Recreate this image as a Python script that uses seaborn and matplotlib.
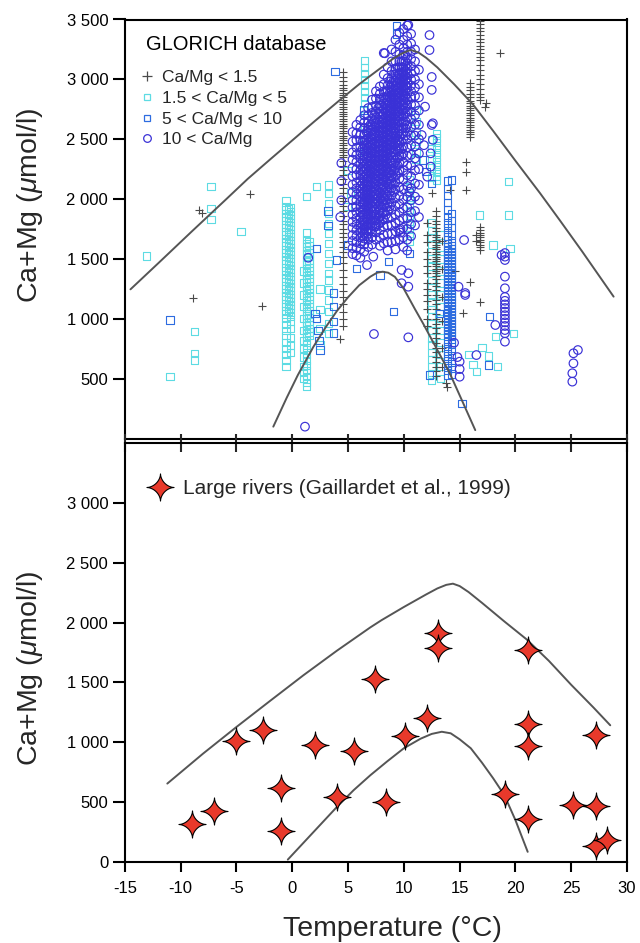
import numpy as np
import pandas as pd
import matplotlib
matplotlib.use("Agg")
import matplotlib.pyplot as plt
from matplotlib.path import Path
from matplotlib.lines import Line2D
from matplotlib.ticker import FuncFormatter
import seaborn as sns

# ---------------------------------------------------------------- GLORICH data
# Ca/Mg < 1.5  (isolated samples)
plus_iso_t = [-8.4, -8.1, -3.8, -8.9, -2.7, 4.3, 18.6, 15.6, 15.6, 15.6, 14.1,
              16.8, 15.3, 15.9, 17.3, 13.8, 13.9, 16.5, 16.5, 14.6, 12.5, 17.35]
plus_iso_y = [1910, 1880, 2040, 1170, 1107, 830, 3218, 2312, 2229, 2076, 2076,
              1143, 1046, 1310, 2772, 461, 430, 1700, 1650, 1400, 2050, 2800]
# Ca/Mg < 1.5  (stations sampled repeatedly)
plus_a_t = 4.55
plus_a_y = [3060, 3020, 2990, 2950, 2930, 2910, 2890, 2870, 2850, 2830, 2810,
            2790, 2770, 2750, 2730, 2710, 2690, 2670, 2650, 2630, 2610, 2590,
            2570, 2550, 2530, 2510, 2490, 2470, 2450, 2430, 2410, 2390, 2370,
            2350, 2320, 2280, 2240, 2200, 2170, 2130, 2090, 2050, 2010, 1980,
            1940, 1900, 1860, 1820, 1790, 1750, 1720, 1680, 1640, 1600, 1560,
            1520, 1470, 1410, 1350, 1290, 1230, 1180, 1120, 1060, 1000, 940]
plus_b_t = 12.9
plus_b_y = [1900, 1860, 1820, 1790, 1760, 1730, 1700, 1680, 1660, 1640, 1620,
            1600, 1580, 1560, 1540, 1520, 1500, 1480, 1460, 1440, 1420, 1400,
            1380, 1360, 1330, 1300, 1270, 1240, 1200, 1160, 1120, 1080, 1040,
            1000, 960, 920, 880, 840, 800, 760, 720, 680, 640, 600, 560, 520]
plus_c_t = 12.1
plus_c_y = [1800, 1700, 1640, 1560, 1500, 1440, 1380, 1300, 1250, 1200, 1150,
            1080, 1000, 940]
plus_d_t = 13.4
plus_d_y = [1650, 1420, 1180, 980, 760, 600]
plus_e_t = 15.9
plus_e_y = [2970, 2940, 2910, 2880, 2850, 2820, 2800, 2780, 2760, 2740, 2720,
            2700, 2680, 2660, 2640, 2620, 2600, 2580, 2560, 2540, 2520]
plus_f_t = 16.8
plus_f_y = [3490, 3460, 3430, 3400, 3370, 3340, 3310, 3280, 3250, 3220, 3190,
            3160, 3120, 3080, 3040, 3000, 2960, 2920, 2880, 2850, 2830,
            1770, 1740, 1720, 1700, 1680, 1660, 1640, 1620, 1600, 1575]

# 1.5 < Ca/Mg < 5
cyan_iso_t = [-13.05, -10.96, -8.78, -8.78, -8.78, -7.28, -7.28, -7.28, -4.6,
              16.8, 19.4, 19.4, 19.5, 18.0, 19.8, 18.2, 16.5, 15.8, 16.2, 17.0,
              17.6, 18.4, 2.2, 1.3, 5.0, 5.2, 4.9, 2.5, 2.5, 2.5, 2.5]
cyan_iso_y = [1524, 516, 892, 712, 656, 2104, 1923, 1831, 1728,
              1867, 2145, 1867, 1589, 1617, 879, 850, 558, 700, 620, 760,
              690, 600, 2104, 2020, 2240, 2050, 1940, 1250, 1080, 920, 780]
cyan_a_t = -0.55
cyan_a_y = [1990, 1940, 1910, 1880, 1850, 1820, 1790, 1760, 1730, 1700, 1670,
            1640, 1610, 1580, 1550, 1520, 1490, 1460, 1430, 1400, 1370, 1340,
            1310, 1280, 1250, 1220, 1190, 1160, 1130, 1100, 1070, 1040, 1000,
            950, 900, 860, 800, 750, 700, 650, 600]
cyan_b_t = -0.15
cyan_b_y = [1930, 1895, 1865, 1835, 1805, 1775, 1745, 1715, 1685, 1655, 1625,
            1595, 1565, 1535, 1505, 1475, 1445, 1415, 1385, 1355, 1325, 1295,
            1265, 1235, 1205, 1175, 1145, 1115, 1085, 1055, 1020, 980, 920,
            840, 780, 720]
cyan_b2_t = -0.35
cyan_b2_y = [1920, 1880, 1845, 1810, 1780, 1750, 1720, 1690, 1660, 1630, 1600,
             1570, 1540, 1510, 1480, 1450, 1420, 1390, 1360, 1330, 1300, 1270,
             1240, 1210, 1180, 1150, 1120, 1090, 1060]
cyan_c_t = 1.3
cyan_c_y = [1716, 1660, 1630, 1600, 1570, 1540, 1510, 1480, 1450, 1420, 1390,
            1360, 1330, 1300, 1270, 1240, 1210, 1180, 1150, 1120, 1090, 1060,
            1030, 1000, 970, 940, 910, 880, 850, 820, 780, 740, 700, 650, 610,
            570, 520, 470, 433]
cyan_c2_t = 1.5
cyan_c2_y = [1640, 1610, 1580, 1550, 1520, 1490, 1460, 1430, 1400, 1370, 1340,
             1310, 1280, 1250, 1220, 1190, 1160, 1130, 1100, 1070, 1040, 1010,
             980, 950, 920, 890, 860]
cyan_d_t = 1.0
cyan_d_y = [1400, 1300, 1200, 1100, 1000, 900, 820, 750, 680, 600, 550, 500]
cyan_e_t = 3.22
cyan_e_y = [2118, 2048, 1965, 1881, 1798, 1714, 1631, 1547, 1464, 1380, 1324,
            1241, 1157, 1059, 962, 879]
cyan_f_t = 6.5
cyan_f_y = [3160, 3100, 3050, 3000, 2950, 2900, 2850, 2800, 2700, 2600, 2500,
            2400]
cyan_g_t = 10.5
cyan_g_y = [2160, 2100, 2050, 2000, 1950, 1900, 1850, 1800, 1750, 1700, 1650]
cyan_h_t = 12.9
cyan_h_y = [2550, 2510, 2470, 2430, 2390, 2350, 2310, 2270, 2230, 2190, 2160]
cyan_i_t = 12.5
cyan_i_y = [2500, 2420, 2340, 2260, 2180, 1800, 1740, 1680, 1620, 1560, 1500,
            1440, 1380, 1320, 1260, 1200, 1140, 1080, 1020, 960, 900, 840,
            780, 720, 660, 600, 540, 490]
cyan_j_t = 13.3
cyan_j_y = [1700, 1600, 1500, 1400, 1300, 1200, 1100, 1000, 900, 800, 700,
            600, 500]
cyan_k_t = 11.1
cyan_k_y = [2740, 2650, 2560, 2480, 2400, 2330]

# 5 < Ca/Mg < 10
blue_iso_t = [-10.96, 3.83, 9.35, 9.35, 2.19, 2.03, 2.2, 2.3, 2.4, 2.5, 3.67,
              3.67, 3.67, 3.67, 3.98, 5.0, 5.77, 9.05, 7.86, 8.6, 12.3, 15.2,
              17.6, 17.7, 13.2, 6.4, 10.5, 11.7, 12.0, 12.5, 14.3, 3.2, 3.2]
blue_iso_y = [990, 3064, 3450, 3380, 1589, 1046, 1000, 900, 820, 740, 1215,
              1100, 980, 880, 1491, 1617, 1422, 1059, 1366, 1477, 530, 294,
              614, 1017, 1046, 2744, 1547, 2327, 2230, 2132, 2160, 1900, 1780]
blue_a_t = 13.9
blue_a_y = [2150, 2090, 2030, 1970, 1910, 1850, 1800, 1760, 1720, 1690, 1660,
            1630, 1600, 1575, 1550, 1525, 1500, 1475, 1450, 1425, 1400, 1375,
            1350, 1325, 1300, 1275, 1250, 1225, 1200, 1175, 1150, 1125, 1100,
            1075, 1050, 1025, 1000, 975, 950, 925, 900, 875, 850, 810, 770,
            730, 690, 650, 610, 570, 530]
blue_b_t = 14.3
blue_b_y = [1880, 1820, 1760, 1700, 1650, 1610, 1587, 1562, 1537, 1512, 1487,
            1462, 1437, 1412, 1387, 1362, 1337, 1312, 1287, 1262, 1237, 1212,
            1187, 1162, 1137, 1112, 1087, 1062, 1037, 1012, 987, 962, 937, 912,
            887, 862, 830, 790, 740, 690, 640, 590, 540]

# 10 < Ca/Mg
circ_iso_t = [1.14, 1.43, 7.32, 10.4, 18.2, 16.5, 15.0, 15.0, 15.0, 14.5, 14.8,
              15.5, 15.4, 14.9, 15.5, 18.76, 12.3, 12.3, 12.5, 12.5, 11.9, 12.6,
              12.6, 10.4, 8.3, 9.7, 9.7, 10.5, 9.8, 9.8, 10.4, 10.4, 7.26, 6.7,
              4.4, 4.4, 4.4, 4.3, 11.6, 12.5, 12.4, 12.4, 12.1, 11.8, 25.6,
              25.2, 25.2, 25.1, 25.1]
circ_iso_y = [99, 1510, 873, 845, 948, 697, 642, 580, 516, 800, 680,
              1199, 1658, 1268, 1215, 1533, 3370, 3245, 3020, 2912, 2772, 2633,
              2495, 3454, 3218, 1750, 1720, 2062, 1408, 1297, 1380, 1268, 1519,
              1449, 2300, 2150, 1990, 1850, 2535, 2619, 2382, 2271, 2187, 2450,
              739, 712, 628, 545, 475]
circ_r_t = 19.06
circ_r_y = [1549, 1519, 1491, 1352, 1255, 1182, 1150, 1120, 1090, 1060, 1030,
            1000, 970, 940, 906, 879, 809]
# dense cloud of samples between 5 and 11.5 °C
circ_cloud_t = [5.4, 5.75, 6.1, 6.45, 6.8, 7.15, 7.5, 7.85, 8.2, 8.55, 8.9,
                9.25, 9.6, 9.95, 10.3, 10.65, 11.0, 11.35]
circ_cloud_y = [
    [2560, 2480, 2390, 2330, 2260, 2190, 2120, 2060, 1990, 1930, 1870, 1810,
     1760, 1700, 1650, 1590, 1540],
    [2620, 2550, 2490, 2430, 2370, 2310, 2250, 2200, 2140, 2090, 2040, 1990,
     1940, 1890, 1840, 1790, 1740, 1690, 1640, 1590, 1530],
    [2660, 2600, 2540, 2490, 2440, 2390, 2340, 2290, 2240, 2200, 2150, 2110,
     2060, 2020, 1980, 1930, 1890, 1850, 1800, 1760, 1720, 1680, 1630, 1580,
     1510],
    [2700, 2640, 2590, 2540, 2490, 2450, 2400, 2360, 2310, 2270, 2230, 2190,
     2150, 2110, 2070, 2030, 1990, 1950, 1910, 1870, 1830, 1790, 1750, 1710,
     1670, 1620, 1560],
    [2760, 2700, 2650, 2600, 2550, 2510, 2470, 2430, 2390, 2350, 2310, 2270,
     2230, 2190, 2150, 2110, 2070, 2030, 1990, 1950, 1910, 1870, 1830, 1790,
     1750, 1710, 1660, 1600],
    [2830, 2770, 2720, 2670, 2620, 2580, 2540, 2500, 2460, 2420, 2380, 2340,
     2300, 2260, 2220, 2180, 2140, 2100, 2060, 2020, 1980, 1940, 1900, 1860,
     1820, 1780, 1730, 1680, 1620],
    [2900, 2840, 2780, 2730, 2680, 2640, 2600, 2560, 2520, 2480, 2440, 2400,
     2360, 2320, 2280, 2240, 2200, 2160, 2120, 2080, 2040, 2000, 1960, 1920,
     1870, 1820, 1770, 1720, 1660],
    [2940, 2880, 2830, 2780, 2730, 2690, 2650, 2610, 2570, 2530, 2490, 2450,
     2410, 2370, 2330, 2290, 2250, 2210, 2170, 2130, 2090, 2050, 2000, 1950,
     1900, 1850, 1800, 1740, 1680, 1610],
    [3220, 3040, 2960, 2900, 2850, 2800, 2750, 2710, 2670, 2630, 2590, 2550,
     2510, 2470, 2430, 2390, 2350, 2310, 2270, 2230, 2190, 2150, 2100, 2050,
     2000, 1950, 1890, 1830, 1770, 1700, 1630],
    [3100, 3010, 2950, 2900, 2860, 2820, 2780, 2740, 2700, 2660, 2620, 2580,
     2540, 2500, 2460, 2420, 2380, 2340, 2300, 2260, 2220, 2170, 2120, 2070,
     2020, 1960, 1900, 1840, 1780, 1710, 1640, 1570],
    [3250, 3150, 3070, 3010, 2960, 2910, 2870, 2830, 2790, 2750, 2710, 2670,
     2630, 2590, 2550, 2510, 2470, 2430, 2390, 2350, 2300, 2250, 2200, 2150,
     2090, 2030, 1970, 1910, 1850, 1780, 1710, 1640],
    [3330, 3230, 3150, 3090, 3040, 2990, 2950, 2910, 2870, 2830, 2790, 2750,
     2710, 2670, 2630, 2590, 2550, 2510, 2470, 2420, 2370, 2320, 2260, 2200,
     2140, 2080, 2010, 1940, 1870, 1800, 1730, 1650, 1580],
    [3390, 3290, 3210, 3150, 3100, 3050, 3010, 2970, 2930, 2890, 2850, 2810,
     2770, 2730, 2690, 2650, 2610, 2570, 2520, 2470, 2420, 2360, 2300, 2240,
     2170, 2100, 2030, 1960, 1890, 1820, 1740, 1660],
    [3420, 3330, 3260, 3200, 3150, 3100, 3060, 3020, 2980, 2940, 2900, 2860,
     2820, 2780, 2740, 2700, 2650, 2600, 2550, 2500, 2440, 2380, 2310, 2240,
     2160, 2080, 2000, 1920, 1840, 1760, 1680, 1600],
    [3450, 3360, 3290, 3230, 3180, 3130, 3090, 3050, 3010, 2970, 2930, 2880,
     2830, 2780, 2730, 2680, 2620, 2560, 2500, 2430, 2360, 2280, 2200, 2110,
     2020, 1930, 1840, 1750, 1660, 1570],
    [3380, 3300, 3230, 3170, 3110, 3050, 3000, 2950, 2900, 2850, 2790, 2730,
     2670, 2600, 2530, 2450, 2370, 2280, 2190, 2090, 1990, 1890, 1790, 1690],
    [3250, 3150, 3070, 3000, 2930, 2860, 2780, 2700, 2620, 2530, 2440, 2340,
     2240, 2130, 2020, 1900, 1780],
    [3080, 2960, 2850, 2740, 2620, 2500, 2380, 2250, 2120, 1990, 1850],
]
# the most crowded part of the cloud
circ_core_t = [6.3, 6.65, 7.0, 7.35, 7.7, 8.05, 8.4, 8.75, 9.1, 9.45, 9.8,
               10.15]
circ_core_y = [
    [2480, 2420, 2370, 2320, 2270, 2230, 2180, 2130, 2090, 2040, 2000, 1960,
     1910, 1870, 1820, 1780, 1740, 1690, 1650],
    [2560, 2500, 2450, 2400, 2350, 2300, 2260, 2210, 2170, 2120, 2080, 2040,
     2000, 1950, 1910, 1870, 1830, 1780, 1740, 1690],
    [2620, 2570, 2520, 2470, 2430, 2380, 2340, 2290, 2250, 2210, 2170, 2120,
     2080, 2040, 2000, 1960, 1920, 1870, 1830, 1790, 1740],
    [2700, 2650, 2600, 2550, 2510, 2460, 2420, 2380, 2330, 2290, 2250, 2210,
     2170, 2130, 2090, 2040, 2000, 1960, 1910, 1870, 1820, 1770],
    [2760, 2710, 2660, 2620, 2570, 2530, 2480, 2440, 2400, 2360, 2320, 2280,
     2230, 2190, 2150, 2110, 2070, 2030, 1980, 1940, 1890, 1840, 1790],
    [2830, 2780, 2730, 2690, 2640, 2600, 2560, 2520, 2480, 2440, 2400, 2360,
     2320, 2280, 2240, 2200, 2160, 2120, 2080, 2030, 1980, 1930, 1880, 1820],
    [2900, 2850, 2800, 2760, 2720, 2680, 2640, 2600, 2560, 2520, 2480, 2440,
     2400, 2360, 2320, 2280, 2240, 2190, 2140, 2090, 2040, 1990, 1930, 1870],
    [2980, 2930, 2890, 2850, 2810, 2770, 2730, 2690, 2650, 2610, 2570, 2530,
     2490, 2450, 2410, 2370, 2320, 2270, 2220, 2170, 2120, 2060, 2000, 1940],
    [3040, 2990, 2950, 2910, 2870, 2830, 2790, 2750, 2710, 2670, 2630, 2590,
     2550, 2500, 2450, 2400, 2350, 2300, 2240, 2180, 2120, 2060],
    [3100, 3050, 3010, 2970, 2930, 2890, 2850, 2810, 2770, 2730, 2690, 2650,
     2600, 2550, 2500, 2450, 2400, 2340, 2280, 2220],
    [3150, 3100, 3060, 3020, 2980, 2940, 2900, 2860, 2820, 2780, 2740, 2690,
     2640, 2590, 2540, 2480, 2420, 2360],
    [3200, 3150, 3110, 3070, 3030, 2990, 2950, 2910, 2860, 2810, 2760, 2710,
     2650, 2590, 2530],
]

# envelope curves, GLORICH panel
top_hi_t = [-14.5, -12, -9, -6, -4, -2, 0, 2, 4.3, 6, 7, 8, 9, 9.8, 10.6,
            11.3, 12, 13, 14.5, 16.2, 18, 20, 22.2, 24, 26, 28.8]
top_hi_y = [1246, 1465, 1730, 1992, 2168, 2330, 2490, 2650, 2830, 2960, 3030,
            3100, 3170, 3215, 3246, 3225, 3180, 3100, 2960, 2790, 2570, 2320,
            2050, 1820, 1560, 1185]
top_lo_t = [-1.7, -0.5, 0.5, 1.9, 3.0, 4.0, 5.0, 6.0, 7.0, 7.6, 8.1, 8.6, 9.2,
            10.0, 11.0, 11.7, 13.0, 14.1, 15.2, 16.4]
top_lo_y = [99, 340, 530, 767, 930, 1065, 1180, 1280, 1352, 1385, 1393, 1385,
            1350, 1250, 1080, 965, 740, 548, 320, 70]

# ----------------------------------------------------------- large rivers
river_t = [-9.0, -7.0, -5.0, -2.6, -1.0, -1.0, 2.0, 4.0, 5.5, 7.4, 8.4, 10.1,
           12.1, 13.1, 13.1, 19.1, 21.1, 21.1, 21.1, 21.1, 25.2, 27.2, 27.2,
           27.2, 28.2]
river_y = [320, 430, 1010, 1100, 615, 260, 975, 540, 925, 1530, 500, 1050,
           1200, 1910, 1790, 570, 1770, 1155, 965, 360, 480, 470, 1060, 130,
           180]

bot_hi_t = [-11.2, -8, -5, -2, 1, 4, 7, 8, 10, 12, 13, 13.8, 14.4, 15.0, 15.8,
            17, 19, 21, 23, 25, 27, 28.5]
bot_hi_y = [655, 905, 1128, 1345, 1560, 1765, 1960, 2020, 2130, 2235, 2285,
            2315, 2325, 2305, 2255, 2165, 2010, 1860, 1680, 1480, 1290, 1142]
bot_lo_t = [-0.4, 1, 2.5, 4, 5.5, 7, 8.5, 10, 11.5, 12.5, 13.4, 14.2, 15.0,
            16, 17, 18, 19, 20, 21.1]
bot_lo_y = [20, 160, 310, 460, 600, 725, 840, 950, 1030, 1070, 1088, 1075,
            1025, 950, 830, 700, 560, 350, 85]

# ------------------------------------------------------------------ styles
C_PLUS = "#4a4a4a"
C_CYAN = "#5ddbe3"
C_BLUE = "#2d6ce0"
C_CIRC = "#3a31d6"
C_LINE = "#555555"
C_STAR = "#e8392b"


def frame(cols, iso_t, iso_y):
    t, y = list(iso_t), list(iso_y)
    for ct, cy in cols:
        t += [ct] * len(cy)
        y += list(cy)
    return pd.DataFrame({"temp": t, "camg": y})


plus_df = frame([(plus_a_t, plus_a_y), (plus_b_t, plus_b_y),
                 (plus_c_t, plus_c_y), (plus_d_t, plus_d_y),
                 (plus_e_t, plus_e_y), (plus_f_t, plus_f_y)],
                plus_iso_t, plus_iso_y)
cyan_df = frame([(cyan_a_t, cyan_a_y), (cyan_b_t, cyan_b_y),
                 (cyan_b2_t, cyan_b2_y), (cyan_c_t, cyan_c_y),
                 (cyan_c2_t, cyan_c2_y), (cyan_d_t, cyan_d_y),
                 (cyan_e_t, cyan_e_y), (cyan_f_t, cyan_f_y),
                 (cyan_g_t, cyan_g_y), (cyan_h_t, cyan_h_y),
                 (cyan_i_t, cyan_i_y), (cyan_j_t, cyan_j_y),
                 (cyan_k_t, cyan_k_y)], cyan_iso_t, cyan_iso_y)
blue_df = frame([(blue_a_t, blue_a_y), (blue_b_t, blue_b_y)],
                blue_iso_t, blue_iso_y)
circ_df = frame([(circ_r_t, circ_r_y)]
                + list(zip(circ_cloud_t, circ_cloud_y))
                + list(zip(circ_core_t, circ_core_y)),
                circ_iso_t, circ_iso_y)
river_df = pd.DataFrame({"temp": river_t, "camg": river_y})

# four-pointed star marker with concave sides
_a = np.linspace(0, 2 * np.pi, 241)
_e = 2 / 0.6
_sx = np.sign(np.cos(_a)) * np.abs(np.cos(_a)) ** _e
_sy = np.sign(np.sin(_a)) * np.abs(np.sin(_a)) ** _e
STAR = Path(np.column_stack([_sx, _sy]), closed=True)

sns.set_theme(style="ticks")
plt.rcParams["font.family"] = ["Liberation Sans", "DejaVu Sans"]
plt.rcParams["mathtext.fontset"] = "custom"
plt.rcParams["mathtext.rm"] = "Liberation Sans"
plt.rcParams["mathtext.it"] = "Liberation Sans:italic"
plt.rcParams["axes.linewidth"] = 1.5
plt.rcParams["axes.edgecolor"] = "black"
plt.rcParams["axes.unicode_minus"] = False

W, H = 640, 943
fig = plt.figure(figsize=(W / 100, H / 100), dpi=100)
x0, x1 = 124.9, 627.0
ax_t = fig.add_axes([x0 / W, 1 - 438.5 / H, (x1 - x0) / W, 419.0 / H])
ax_b = fig.add_axes([x0 / W, 1 - 862.0 / H, (x1 - x0) / W, 419.0 / H])
ax_b.set_zorder(3)

fmt = FuncFormatter(lambda v, p: f"{int(v):,}".replace(",", " "))

# ------------------------------------------------------------ GLORICH panel
sns.scatterplot(data=cyan_df, x="temp", y="camg", marker="s", s=28,
                color=C_CYAN, facecolor="none", edgecolor=C_CYAN,
                linewidth=0.8, ax=ax_t, legend=False, zorder=2)
sns.scatterplot(data=plus_df, x="temp", y="camg", marker="+", s=40,
                color=C_PLUS, linewidth=0.8, ax=ax_t, legend=False, zorder=3)
sns.scatterplot(data=blue_df, x="temp", y="camg", marker="s", s=28,
                color=C_BLUE, facecolor="none", edgecolor=C_BLUE,
                linewidth=0.8, ax=ax_t, legend=False, zorder=4)
sns.scatterplot(data=circ_df, x="temp", y="camg", marker="o", s=38,
                color=C_CIRC, facecolor="none", edgecolor=C_CIRC,
                linewidth=0.85, ax=ax_t, legend=False, zorder=5)
sns.lineplot(x=top_hi_t, y=top_hi_y, color=C_LINE, linewidth=1.4, ax=ax_t,
             zorder=6)
sns.lineplot(x=top_lo_t, y=top_lo_y, color=C_LINE, linewidth=1.4, ax=ax_t,
             zorder=6)

handles = [
    Line2D([], [], ls="none", marker="+", ms=7, mew=0.9, color=C_PLUS),
    Line2D([], [], ls="none", marker="s", ms=5, mew=0.9, mfc="none", mec=C_CYAN),
    Line2D([], [], ls="none", marker="s", ms=5, mew=0.9, mfc="none", mec=C_BLUE),
    Line2D([], [], ls="none", marker="o", ms=5.5, mew=0.9, mfc="none", mec=C_CIRC),
]
labels = ["Ca/Mg < 1.5", "1.5 < Ca/Mg < 5", "5 < Ca/Mg < 10", "10 < Ca/Mg"]
ax_t.text(0.042, 0.9415, "GLORICH database", transform=ax_t.transAxes,
          ha="left", va="center", fontsize=14.5, color="black", zorder=10)
ax_t.legend(handles, labels, loc="upper left", bbox_to_anchor=(0.031, 0.879),
            frameon=False, fontsize=12.5, handlelength=0.8,
            handletextpad=0.45, labelspacing=0.32, borderaxespad=0,
            borderpad=0)

ax_t.set_xlim(-15, 30)
ax_t.set_ylim(0, 3500)
ax_t.set_yticks([500, 1000, 1500, 2000, 2500, 3000, 3500])
ax_t.yaxis.set_major_formatter(fmt)
ax_t.tick_params(axis="x", bottom=False, labelbottom=False)
ax_t.set_xlabel("")

# ------------------------------------------------------------ rivers panel
sns.lineplot(x=bot_hi_t, y=bot_hi_y, color=C_LINE, linewidth=1.4, ax=ax_b,
             zorder=2)
sns.lineplot(x=bot_lo_t, y=bot_lo_y, color=C_LINE, linewidth=1.4, ax=ax_b,
             zorder=2)
sns.scatterplot(data=river_df, x="temp", y="camg", marker=STAR, s=380,
                color=C_STAR, edgecolor="black", linewidth=0.8, ax=ax_b,
                legend=False, zorder=4)
star_h = Line2D([], [], ls="none", marker=STAR, ms=19.5, mfc=C_STAR,
                mec="black", mew=0.8)
ax_b.legend([star_h], ["Large rivers (Gaillardet et al., 1999)"],
            loc="upper left", bbox_to_anchor=(0.045, 0.914), frameon=False,
            fontsize=15, handlelength=1.2, handletextpad=0.5,
            borderaxespad=0, borderpad=0)

ax_b.set_xlim(-15, 30)
ax_b.set_ylim(0, 3500)
ax_b.set_xticks(range(-15, 31, 5))
ax_b.set_yticks([0, 500, 1000, 1500, 2000, 2500, 3000])
ax_b.yaxis.set_major_formatter(fmt)
sec = ax_b.secondary_xaxis("top")
sec.set_xticks(range(-15, 31, 5))
sec.tick_params(axis="x", direction="inout", length=13, width=1.5,
                labeltop=False)
sec.spines["top"].set_visible(False)

label_y = {0: 0.557, 1: 0.463}
for i, ax in enumerate((ax_t, ax_b)):
    for sp in ax.spines.values():
        sp.set_visible(True)
        sp.set_linewidth(1.5)
    ax.tick_params(axis="y", direction="out", length=9, width=1.5,
                   labelsize=12, pad=3, colors="black")
    ax.set_ylabel(r"Ca+Mg ($\mu$mol/l)", fontsize=20.5)
    ax.yaxis.set_label_coords(-0.16, label_y[i])

ax_b.tick_params(axis="x", direction="out", length=7, width=1.5,
                 labelsize=12, pad=7, colors="black")
ax_b.set_xlabel("Temperature (°C)", fontsize=20.5)
ax_b.xaxis.set_label_coords(0.532, -0.13)

fig.savefig("out.png", dpi=100, facecolor="white")
